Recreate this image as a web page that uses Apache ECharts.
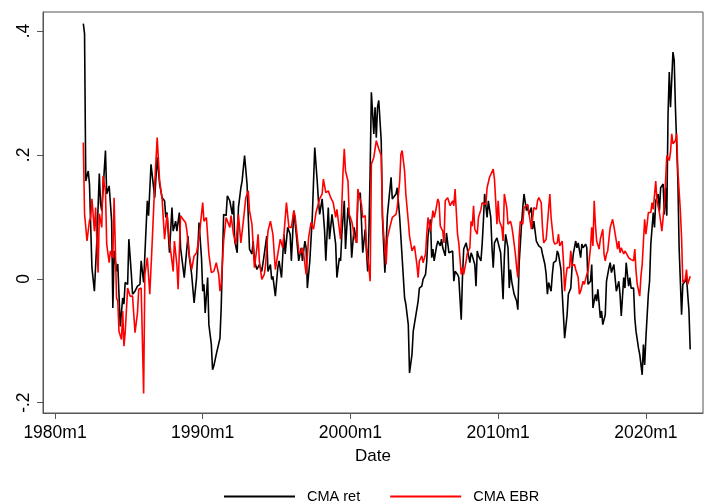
<!DOCTYPE html>
<html>
<head>
<meta charset="utf-8">
<script src="https://cdn.jsdelivr.net/npm/echarts@6/dist/echarts.min.js"></script>
<style>
  html, body { margin: 0; padding: 0; background: #fff; }
  #chart { width: 704px; height: 502px; }
</style>
</head>
<body>
<div id="chart"></div>
<script>
// months counted from 1980m1 (0 = 1980m1)
const xTickMonths = [0, 120, 240, 360, 480];
const xTickLabels = ['1980m1', '1990m1', '2000m1', '2010m1', '2020m1'];
const yTickValues = [-0.2, 0, 0.2, 0.4];
const yTickLabels = ['-.2', '0', '.2', '.4'];

// CMA ret (black)
const retMonths = [23,24,25,27,28,30,32,34,36,37,38,41,42,44,46,47,48,50,51,53,55,56,57,59,60,62,63,65,67,69,70,72,74,75,76,78,81,83,85,87,89,90,91,93,95,96,98,99,101,102,105,108,109,111,113,115,117,119,120,121,122,124,125,127,128,129,131,132,134,135,137,139,140,142,144,145,146,148,149,151,152,154,156,158,160,161,162,164,166,168,170,172,173,175,176,177,179,181,182,184,186,187,189,191,192,194,196,198,200,201,203,204,205,207,209,211,213,214,215,217,218,219,220,222,223,225,228,229,231,232,233,235,236,238,240,241,243,245,246,248,250,252,254,255,256,257,259,260,261,262,263,265,266,267,268,270,271,273,274,275,277,278,280,282,284,285,287,288,290,291,292,295,296,298,299,301,302,303,305,306,307,308,310,311,313,314,315,317,318,320,321,323,324,325,327,328,330,331,332,334,335,337,338,339,341,342,343,344,346,347,348,349,351,352,354,355,356,357,359,360,362,363,364,365,366,368,369,370,371,373,375,376,377,379,380,381,383,384,385,387,388,389,391,392,393,395,396,398,399,400,401,403,404,405,407,408,409,411,412,413,414,416,417,419,420,421,423,424,425,427,428,429,431,432,433,435,436,437,439,440,441,443,444,445,447,448,450,451,452,454,455,456,458,459,460,462,463,464,466,467,468,470,471,472,474,475,477,478,479,480,482,483,484,486,487,488,490,491,492,494,495,496,497,498,499,500,502,503,504,506,507,509,510,512,513,515,516];
const retValues = [.412,.396,.158,.174,.153,.018,-.020,.061,.170,.121,.110,.207,.137,.150,.094,-.047,.045,.012,.024,-.077,-.031,-.041,-.006,-.009,.064,.008,-.025,-.020,-.012,-.009,.029,-.006,.083,.126,.102,.185,.131,.196,.153,.131,.126,.099,.107,.042,.115,.077,.093,.077,.107,.050,.002,.069,.037,.007,-.039,.002,.091,.034,-.020,-.009,-.055,.002,-.074,-.106,-.147,-.141,-.122,-.125,-.096,-.047,.104,.102,.134,.126,.104,.126,.061,.042,.115,.147,.158,.199,.153,.048,.040,.061,.029,.015,.023,.012,.040,.069,.012,.023,-.001,.004,-.028,.018,.029,.002,.072,.040,.083,.072,.029,.110,.072,.029,.050,.029,.061,.050,-.015,.029,.099,.212,.158,.126,.104,.129,.104,.077,.029,.115,.064,.104,.056,.002,.034,.029,.072,.126,.048,.115,.085,.034,.083,.058,.131,.139,.042,.080,.012,.074,.174,.301,.234,.277,.228,.277,.288,.223,.099,.053,.010,.102,.104,.164,.129,.131,.137,.147,.099,.034,-.031,-.041,-.074,-.152,-.122,-.085,-.087,-.036,-.015,-.012,-.001,.007,.029,.069,.096,.034,.048,.029,.053,.061,.053,.064,.050,.037,.074,.042,.040,.045,-.004,.012,.007,.002,-.066,.002,.048,.058,.061,.026,.042,.037,.023,-.012,.045,.037,.029,.056,.093,.137,.099,.126,.099,.050,.018,.058,.066,.064,.042,.007,-.033,.034,.072,.050,-.015,.015,-.004,-.025,-.036,-.050,.023,.088,.115,.137,.110,.118,.104,.115,.080,.093,.061,.058,.053,.050,.040,.023,.007,-.025,-.006,-.020,.007,.026,.029,.045,.040,.015,.012,-.058,-.096,-.058,-.025,-.015,.018,.040,.061,.050,.058,.034,.056,.050,.056,.050,-.009,-.004,.023,-.047,-.025,-.036,-.017,-.063,-.052,-.074,-.058,-.004,.018,.026,.010,.023,.021,-.020,-.004,-.025,-.060,.002,-.015,.026,-.012,.002,-.015,-.015,-.063,-.085,-.112,-.122,-.155,-.106,-.139,-.096,-.025,-.004,.056,.107,.083,.126,.137,.110,.147,.153,.104,.147,.102,.266,.334,.277,.366,.353,.277,.158,.050,-.058,-.009,-.004,.002,-.052,-.114];

// CMA EBR (red)
const ebrMonths = [23,24,26,28,29,30,32,33,35,36,38,39,41,42,44,45,47,48,50,51,52,54,55,56,57,59,61,63,65,67,68,70,72,73,75,77,79,81,83,84,85,87,89,91,93,96,97,99,100,102,104,106,107,109,111,113,115,117,120,121,123,125,127,129,131,133,134,135,137,139,142,143,145,147,149,151,153,155,157,158,160,162,164,165,166,168,170,171,173,175,177,179,181,183,185,186,188,190,192,194,195,198,199,201,202,204,206,208,210,212,213,215,217,218,220,222,224,226,227,228,229,231,232,234,235,236,238,239,241,242,243,245,246,247,249,250,252,253,255,256,257,259,260,261,263,265,266,267,269,270,272,274,275,277,278,280,281,282,284,285,287,288,290,292,294,295,296,298,299,301,302,303,304,305,307,308,309,311,312,313,315,316,317,319,320,321,323,324,325,327,328,330,331,332,334,335,337,338,339,340,341,343,344,346,347,348,350,351,353,354,356,357,358,359,360,361,363,364,365,367,368,370,371,372,374,375,376,377,378,380,381,382,384,385,387,388,389,391,392,393,395,396,397,399,400,402,403,405,406,408,409,410,412,413,414,415,416,418,419,420,422,423,425,426,427,429,430,432,433,435,436,437,438,439,440,442,443,445,446,447,448,449,451,453,454,456,457,458,459,460,462,463,464,466,467,468,470,471,472,473,475,476,477,479,480,481,482,484,485,486,488,489,491,492,493,495,496,497,499,500,501,502,504,505,506,508,509,510,512,513,514,516];
const ebrValues = [.220,.105,.061,.094,.099,.129,.077,.115,.010,.105,.083,.166,.142,.056,.026,.045,.034,.131,-.031,-.036,-.085,-.098,-.052,-.109,-.087,-.015,-.028,-.028,-.087,-.055,-.017,-.015,-.185,.007,.034,-.025,.061,.153,.228,.231,.158,.129,.064,.104,.061,.012,.061,.023,-.017,.102,.096,.091,.080,.040,.015,.037,.042,.066,.123,.093,.099,.040,.010,.012,.026,.007,-.020,-.009,.061,.099,.083,.102,.072,.056,.104,.058,.093,.131,.142,.110,.088,.018,.050,.072,.029,-.001,.007,.021,.077,.093,.072,.015,.040,.064,.050,.072,.123,.083,.083,.110,.102,.045,.040,.050,.040,.007,.066,.091,.080,.107,.104,.129,.137,.161,.139,.142,.131,.123,.126,.099,.112,.080,.064,.174,.210,.174,.158,.104,.093,.083,.069,.058,.145,.134,.120,.099,.102,.048,.018,-.004,.185,.196,.199,.223,.210,.199,.104,.072,.023,.066,.083,.099,.096,.104,.115,.158,.201,.207,.174,.137,.093,.069,.045,.053,.023,.002,.029,.037,.026,.040,.072,.099,.102,.077,.110,.099,.107,.129,.123,.085,.077,.058,.126,.131,.134,.118,.126,.118,.145,.072,.058,.007,.018,.007,.029,.042,.050,.093,.085,.118,.080,.072,.099,.112,.123,.120,.120,.147,.164,.161,.177,.161,.126,.088,.126,.093,.083,.061,.137,.115,.088,.093,.085,.072,.040,.018,.002,.066,.093,.088,.115,.112,.120,.123,.080,.077,.115,.112,.126,.131,.123,.083,.058,.064,.066,.137,.099,.061,.056,.058,.072,.053,.061,.029,-.020,.002,.018,.018,.045,.021,.023,.015,.002,-.025,-.020,-.004,-.009,.007,.012,.050,.083,.053,.126,.088,.061,.048,.064,.080,.040,.029,.040,.045,.083,.096,.085,.061,.048,.061,.042,.050,.040,.045,.042,.034,.037,.031,.029,.048,.012,-.009,-.028,.004,.023,.096,.072,.088,.107,.107,.123,.112,.158,.126,.107,.107,.077,.120,.158,.199,.191,.204,.234,.218,.223,.234,.174,.110,.066,-.006,-.001,.015,-.009,.004];

const pair = (xs, ys) => xs.map((x, i) => [x, ys[i]]);
const font = "'Liberation Sans', Arial, sans-serif";
const frame = '#555';

const chart = echarts.init(document.getElementById('chart'));
chart.setOption({
  animation: false,
  backgroundColor: '#fff',
  grid: {left: 43, right: 1, top: 12, bottom: 89, show: true, borderColor: frame, borderWidth: 1},
  legend: {
    left: 219,
    top: 484,
    itemWidth: 71,
    itemHeight: 14,
    itemGap: 30,
    icon: 'path://M0,6 L71,6 L71,8 L0,8 Z',
    textStyle: {fontFamily: font, fontSize: 14.5, color: '#000', padding: [0, 0, 0, 7]},
    data: ['CMA ret', 'CMA EBR'],
  },
  xAxis: {
    type: 'value',
    min: -9.75,
    max: 526.4,
    name: 'Date',
    nameLocation: 'middle',
    nameGap: 35,
    nameTextStyle: {fontFamily: font, fontSize: 17, color: '#000'},
    splitLine: {show: false},
    axisLine: {show: true, onZero: false, lineStyle: {color: frame}},
    axisTick: {show: true, length: 6, customValues: xTickMonths, lineStyle: {color: frame}},
    axisLabel: {
      customValues: xTickMonths,
      margin: 11,
      fontFamily: font, fontSize: 17.5, color: '#000',
      formatter: v => xTickLabels[xTickMonths.indexOf(v)],
    },
  },
  yAxis: {
    type: 'value',
    min: -0.2167,
    max: 0.4308,
    splitLine: {show: false},
    axisLine: {show: true, onZero: false, lineStyle: {color: frame}},
    axisTick: {show: true, length: 6, customValues: yTickValues, lineStyle: {color: frame}},
    axisLabel: {
      customValues: yTickValues,
      rotate: 90,
      margin: 10,
      fontFamily: font, fontSize: 17.5, color: '#000',
      formatter: v => yTickLabels[yTickValues.findIndex(t => Math.abs(t - v) < 1e-9)],
    },
  },
  series: [
    {
      name: 'CMA ret', type: 'line', symbol: 'none', color: '#000',
      lineStyle: {width: 1.6}, data: pair(retMonths, retValues),
    },
    {
      name: 'CMA EBR', type: 'line', symbol: 'none', color: '#ff0000',
      lineStyle: {width: 1.6}, data: pair(ebrMonths, ebrValues),
    },
  ],
});
</script>
</body>
</html>
